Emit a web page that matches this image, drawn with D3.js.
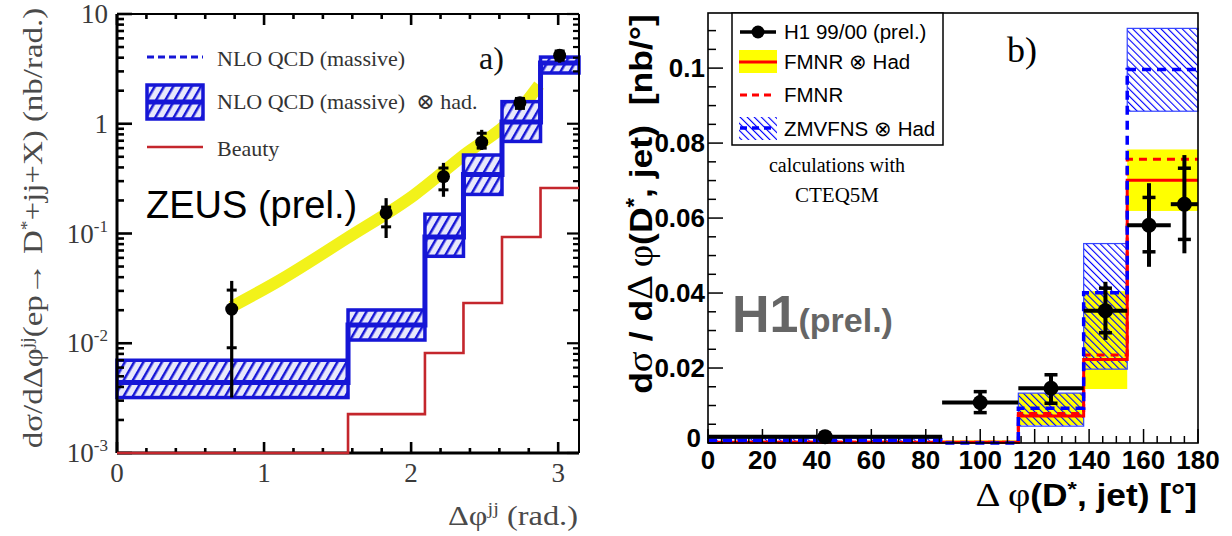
<!DOCTYPE html>
<html><head><meta charset="utf-8">
<script src="https://cdn.jsdelivr.net/npm/d3@7/dist/d3.min.js"></script>
<style>html,body{margin:0;padding:0;background:#fff;}svg{display:block;}</style>
</head><body>
<svg id="chart" width="1232" height="536"></svg>
<script>
// ---------------- Panel a) ZEUS ----------------
const zeusEdges   = [0, 1.571, 2.094, 2.356, 2.618, 2.880, 3.1416];
const nloHad      = [0.0044, 0.0147, 0.093, 0.345, 1.04, 3.58];
const nloHadUp    = [0.0070, 0.0201, 0.150, 0.519, 1.59, 4.05];
const nloHadDown  = [0.0032, 0.0107, 0.062, 0.227, 0.69, 2.90];
const beauty      = [0.001, 0.00226, 0.00815, 0.0233, 0.093, 0.26];
const zeusX       = [0.78, 1.83, 2.22, 2.48, 2.74, 3.01];
const zeusY       = [0.0205, 0.154, 0.33, 0.68, 1.55, 4.2];
const zeusStatUp  = [0.0305, 0.174, 0.395, 0.82, 1.70, 4.6];
const zeusStatDown= [0.0091, 0.115, 0.25, 0.60, 1.38, 3.8];
const zeusTotUp   = [0.037, 0.21, 0.44, 0.88, 1.72, 4.7];
const zeusTotDown = [0.0032, 0.091, 0.216, 0.577, 1.33, 3.6];
const fitX        = [0.78, 1.11, 1.56, 2.02, 2.36, 2.70, 2.87];
const fitY        = [0.0215, 0.0377, 0.090, 0.224, 0.52, 1.16, 2.25];
const zeusYTicks  = [0.001, 0.01, 0.1, 1, 10];
const zeusYTickBase = ["10", "10", "10", "1", "10"];
const zeusYTickExp  = ["-3", "-2", "-1", "", ""];
const zeusXTicks  = [0, 1, 2, 3];
const zeusLegend  = ["NLO QCD (massive)", "NLO QCD (massive)  \u2297 had.", "Beauty"];

// ---------------- Panel b) H1 ----------------
const h1Lo        = [0, 86, 114, 138, 154, 170];
const h1Hi        = [86, 114, 138, 154, 170, 180];
const h1X         = [43, 100, 126, 146, 162, 175];
const h1Y         = [0.0017, 0.0108, 0.0146, 0.0353, 0.0581, 0.0637];
const h1StatUp    = [0.0017, 0.0137, 0.0182, 0.0413, 0.0655, 0.0733];
const h1StatDown  = [0.0017, 0.0081, 0.0106, 0.0294, 0.0510, 0.0543];
const h1TotUp     = [0.0017, 0.0137, 0.0184, 0.0430, 0.0693, 0.0768];
const h1TotDown   = [0.0017, 0.0081, 0.0106, 0.0275, 0.0470, 0.0506];
const thEdges     = [0, 86, 114, 138, 154, 180];
const fmnrHad     = [0.0002, 0.0002, 0.0072, 0.0223, 0.0701];
const fmnrHadUp   = [0.0004, 0.0007, 0.0133, 0.0405, 0.0783];
const fmnrHadDown = [0.0000, 0.0000, 0.0048, 0.0144, 0.0619];
const fmnr        = [0.0002, 0.0002, 0.0079, 0.0235, 0.0757];
const zmvfnsHad   = [0.0007, 0.0000, 0.0093, 0.0401, 0.0996];
const zmvfnsUp    = [0.0012, 0.0001, 0.0133, 0.0532, 0.1106];
const zmvfnsDown  = [0.0002, 0.0000, 0.0045, 0.0197, 0.0885];
const h1YTicks    = [0, 0.02, 0.04, 0.06, 0.08, 0.1];
const h1YTickLabels = ["0", "0.02", "0.04", "0.06", "0.08", "0.1"];
const h1XTicks    = [0, 20, 40, 60, 80, 100, 120, 140, 160, 180];
const h1Legend    = ["H1 99/00 (prel.)", "FMNR \u2297 Had", "FMNR", "ZMVFNS \u2297 Had"];

// ---------------- drawing ----------------
const SERIF = "'Liberation Serif','DejaVu Serif',serif";
const SANS = "'Liberation Sans',Arial,sans-serif";
const BLUE_A = "#1616d6", RED_A = "#c4262c";
const svg = d3.select("#chart");
const defs = svg.append("defs");
const pA = defs.append("pattern").attr("id", "hatchA").attr("patternUnits", "userSpaceOnUse")
  .attr("width", 8).attr("height", 8).attr("patternTransform", "rotate(30)");
pA.append("rect").attr("width", 8).attr("height", 8).attr("fill", "#e8e8fb");
pA.append("rect").attr("width", 2.5).attr("height", 8).attr("fill", BLUE_A);
const pB = defs.append("pattern").attr("id", "hatchB").attr("patternUnits", "userSpaceOnUse")
  .attr("width", 5).attr("height", 5).attr("patternTransform", "rotate(-45)");
pB.append("rect").attr("width", 1.1).attr("height", 5).attr("fill", "#0000ff");

function stepPts(edges, vals) {
  const p = vals.map((v, i) => [edges[i], v]);
  p.push([edges[edges.length - 1], vals[vals.length - 1]]);
  return p;
}

// ===== Panel a =====
const xL = d3.scaleLinear().domain([0, 3.1416]).range([117, 579]);
const yL = d3.scaleLog().domain([0.001, 10]).range([453, 14]);
const gA = svg.append("g");

// fit band (yellow)
gA.append("path").datum(fitX.map((x, i) => [x, fitY[i]]))
  .attr("d", d3.line().x(d => xL(d[0])).y(d => yL(d[1])).curve(d3.curveMonotoneX))
  .attr("fill", "none").attr("stroke", "#f2f21a").attr("stroke-width", 12);

// NLO bands
gA.selectAll("rect.band").data(nloHad).join("rect").attr("class", "band")
  .attr("x", (d, i) => xL(zeusEdges[i]))
  .attr("width", (d, i) => xL(zeusEdges[i + 1]) - xL(zeusEdges[i]))
  .attr("y", (d, i) => yL(nloHadUp[i]))
  .attr("height", (d, i) => yL(nloHadDown[i]) - yL(nloHadUp[i]))
  .attr("fill", "url(#hatchA)").attr("stroke", BLUE_A).attr("stroke-width", 3.5);
gA.append("path").datum(stepPts(zeusEdges, nloHad))
  .attr("d", d3.line().x(d => xL(d[0])).y(d => yL(d[1])).curve(d3.curveStepAfter))
  .attr("fill", "none").attr("stroke", BLUE_A).attr("stroke-width", 5);

// ZEUS data points
const ptsA = gA.selectAll("g.pt").data(zeusY).join("g").attr("class", "pt");
ptsA.append("line").attr("x1", (d, i) => xL(zeusX[i])).attr("x2", (d, i) => xL(zeusX[i]))
  .attr("y1", (d, i) => yL(zeusTotUp[i])).attr("y2", (d, i) => yL(zeusTotDown[i]))
  .attr("stroke", "#000").attr("stroke-width", 3.2);
[zeusStatUp, zeusStatDown].forEach(arr => {
  ptsA.append("line").attr("x1", (d, i) => xL(zeusX[i]) - 5).attr("x2", (d, i) => xL(zeusX[i]) + 5)
    .attr("y1", (d, i) => yL(arr[i])).attr("y2", (d, i) => yL(arr[i]))
    .attr("stroke", "#000").attr("stroke-width", 3);
});
ptsA.append("circle").attr("cx", (d, i) => xL(zeusX[i])).attr("cy", d => yL(d)).attr("r", 6.5).attr("fill", "#000");

// frame + ticks
const fA = svg.append("g").attr("stroke", "#000").attr("fill", "none");
fA.append("line").attr("x1", xL(0)).attr("x2", xL(0)).attr("y1", yL(10)).attr("y2", yL(0.001)).attr("stroke-width", 3);
fA.append("line").attr("x1", xL(0)).attr("x2", xL(3.1416)).attr("y1", yL(0.001)).attr("y2", yL(0.001)).attr("stroke-width", 3);
fA.append("line").attr("x1", xL(0)).attr("x2", xL(3.1416)).attr("y1", yL(10)).attr("y2", yL(10)).attr("stroke-width", 2);
fA.append("line").attr("x1", xL(3.1416)).attr("x2", xL(3.1416)).attr("y1", yL(10)).attr("y2", yL(0.001)).attr("stroke-width", 2);
const yMinorA = yL.ticks();
const xMinorA = xL.ticks(15).filter(v => v <= 3.1416);
fA.selectAll("line.ylt").data(yMinorA).join("line").attr("class", "ylt")
  .attr("x1", xL(0)).attr("x2", d => xL(0) + (zeusYTicks.includes(d) ? 15 : 7))
  .attr("y1", d => yL(d)).attr("y2", d => yL(d)).attr("stroke-width", 2.6);
fA.selectAll("line.yrt").data(yMinorA).join("line").attr("class", "yrt")
  .attr("x1", xL(3.1416)).attr("x2", d => xL(3.1416) - (zeusYTicks.includes(d) ? 12 : 6))
  .attr("y1", d => yL(d)).attr("y2", d => yL(d)).attr("stroke-width", 2.2);
fA.selectAll("line.xbt").data(xMinorA).join("line").attr("class", "xbt")
  .attr("x1", d => xL(d)).attr("x2", d => xL(d))
  .attr("y1", yL(0.001)).attr("y2", d => yL(0.001) - (zeusXTicks.includes(d) ? 11 : 5)).attr("stroke-width", 2.6);
fA.selectAll("line.xtt").data(xMinorA).join("line").attr("class", "xtt")
  .attr("x1", d => xL(d)).attr("x2", d => xL(d))
  .attr("y1", yL(10)).attr("y2", d => yL(10) + (zeusXTicks.includes(d) ? 11 : 5)).attr("stroke-width", 2.6);

// beauty histogram (drawn above the frame so the lowest bin shows on the axis)
svg.append("path").datum(stepPts(zeusEdges, beauty))
  .attr("d", d3.line().x(d => xL(d[0])).y(d => yL(d[1])).curve(d3.curveStepAfter))
  .attr("fill", "none").attr("stroke", RED_A).attr("stroke-width", 2.6);

// tick labels
const tlA = svg.append("g").attr("font-family", SERIF).attr("fill", "#3a3a3a");
zeusYTicks.forEach((v, i) => {
  const t = tlA.append("text").attr("x", 108).attr("y", yL(v) + 9).attr("text-anchor", "end").attr("font-size", 27);
  t.append("tspan").text(zeusYTickBase[i]);
  if (zeusYTickExp[i]) t.append("tspan").attr("dy", -11).attr("font-size", 17).text(zeusYTickExp[i]);
});
zeusXTicks.forEach(v => {
  tlA.append("text").attr("x", xL(v)).attr("y", 482).attr("text-anchor", "middle").attr("font-size", 27).text(v);
});
// axis titles
const ytA = tlA.append("text").attr("transform", "translate(42,228) rotate(-90) scale(1.22,1)")
  .attr("text-anchor", "middle").attr("font-size", 27).attr("fill", "#4a4a4a");
ytA.append("tspan").text("d\u03c3/d\u0394\u03c6");
ytA.append("tspan").attr("dy", -10).attr("font-size", 16).text("jj");
ytA.append("tspan").attr("dy", 10).text("(ep\u2192 D");
ytA.append("tspan").attr("dy", -10).attr("font-size", 16).text("*");
ytA.append("tspan").attr("dy", 10).text("+jj+X) (nb/rad.)");
const xtA = tlA.append("text").attr("transform", "translate(578,525) scale(1.2,1)")
  .attr("text-anchor", "end").attr("font-size", 27).attr("fill", "#4a4a4a");
xtA.append("tspan").text("\u0394\u03c6");
xtA.append("tspan").attr("dy", -11).attr("font-size", 17).text("jj");
xtA.append("tspan").attr("dy", 11).text(" (rad.)");

// legend a
const lgA = svg.append("g");
lgA.append("line").attr("x1", 147).attr("x2", 203).attr("y1", 57).attr("y2", 57)
  .attr("stroke", BLUE_A).attr("stroke-width", 3).attr("stroke-dasharray", "7,4");
lgA.append("rect").attr("x", 147).attr("y", 85).attr("width", 56).attr("height", 34)
  .attr("fill", "url(#hatchA)").attr("stroke", BLUE_A).attr("stroke-width", 3.5);
lgA.append("line").attr("x1", 147).attr("x2", 203).attr("y1", 102).attr("y2", 102).attr("stroke", BLUE_A).attr("stroke-width", 5);
lgA.append("line").attr("x1", 147).attr("x2", 203).attr("y1", 147).attr("y2", 147).attr("stroke", RED_A).attr("stroke-width", 2.6);
[66, 109, 156].forEach((y, i) => {
  lgA.append("text").attr("x", 217).attr("y", y).attr("font-family", SERIF).attr("font-size", 22)
    .attr("fill", "#333").attr("xml:space", "preserve").text(zeusLegend[i]);
});
svg.append("text").attr("x", 146).attr("y", 218).attr("font-family", SANS).attr("font-size", 38).attr("fill", "#000").text("ZEUS (prel.)");
svg.append("text").attr("x", 479).attr("y", 69).attr("font-family", SERIF).attr("font-size", 32).attr("fill", "#111").text("a)");

// ===== Panel b =====
const xR = d3.scaleLinear().domain([0, 180]).range([708, 1198]);
const yR = d3.scaleLinear().domain([0, 0.1147]).range([443, 13]);
const gB = svg.append("g");
const stepR = d3.line().x(d => xR(d[0])).y(d => yR(d[1])).curve(d3.curveStepAfter);

// FMNR x Had yellow band
gB.selectAll("rect.yb").data(fmnrHad).join("rect").attr("class", "yb")
  .attr("x", (d, i) => xR(thEdges[i])).attr("width", (d, i) => xR(thEdges[i + 1]) - xR(thEdges[i]))
  .attr("y", (d, i) => yR(fmnrHadUp[i])).attr("height", (d, i) => yR(fmnrHadDown[i]) - yR(fmnrHadUp[i]))
  .attr("fill", "#ffff00");
// ZMVFNS hatch band
gB.selectAll("rect.hb").data(zmvfnsHad).join("rect").attr("class", "hb")
  .attr("x", (d, i) => xR(thEdges[i])).attr("width", (d, i) => xR(thEdges[i + 1]) - xR(thEdges[i]))
  .attr("y", (d, i) => yR(zmvfnsUp[i])).attr("height", (d, i) => yR(zmvfnsDown[i]) - yR(zmvfnsUp[i]))
  .attr("fill", "url(#hatchB)").attr("stroke", "#3344ff").attr("stroke-width", 1.2);
gB.append("path").datum(stepPts(thEdges, fmnrHad)).attr("d", stepR)
  .attr("fill", "none").attr("stroke", "#ff0000").attr("stroke-width", 3);
gB.append("path").datum(stepPts(thEdges, fmnr)).attr("d", stepR)
  .attr("fill", "none").attr("stroke", "#ff0000").attr("stroke-width", 3).attr("stroke-dasharray", "8,6");
gB.append("path").datum(stepPts(thEdges, zmvfnsHad)).attr("d", stepR)
  .attr("fill", "none").attr("stroke", "#0000ff").attr("stroke-width", 3.5).attr("stroke-dasharray", "9,6");

// H1 data
const ptsB = gB.selectAll("g.pt").data(h1Y).join("g").attr("class", "pt");
ptsB.append("line").attr("x1", (d, i) => xR(h1Lo[i])).attr("x2", (d, i) => xR(h1Hi[i]))
  .attr("y1", d => yR(d)).attr("y2", d => yR(d)).attr("stroke", "#000").attr("stroke-width", 4);
ptsB.append("line").attr("x1", (d, i) => xR(h1X[i])).attr("x2", (d, i) => xR(h1X[i]))
  .attr("y1", (d, i) => yR(h1TotUp[i])).attr("y2", (d, i) => yR(h1TotDown[i]))
  .attr("stroke", "#000").attr("stroke-width", 4);
[h1StatUp, h1StatDown].forEach(arr => {
  ptsB.filter((d, i) => arr[i] !== d).append("line")
    .attr("x1", (d) => xR(h1X[h1Y.indexOf(d)]) - 6.5).attr("x2", (d) => xR(h1X[h1Y.indexOf(d)]) + 6.5)
    .attr("y1", (d) => yR(arr[h1Y.indexOf(d)])).attr("y2", (d) => yR(arr[h1Y.indexOf(d)]))
    .attr("stroke", "#000").attr("stroke-width", 3.5);
});
ptsB.append("circle").attr("cx", (d, i) => xR(h1X[i])).attr("cy", d => yR(d)).attr("r", 7.5).attr("fill", "#000");

// frame + ticks
const fB = svg.append("g").attr("stroke", "#000");
fB.append("rect").attr("x", xR(0)).attr("y", yR(0.1147)).attr("width", xR(180) - xR(0)).attr("height", yR(0) - yR(0.1147))
  .attr("fill", "none").attr("stroke-width", 1.6);
const yMinorB = yR.ticks(23);
const xMinorB = xR.ticks(36);
fB.selectAll("line.yt").data(yMinorB).join("line").attr("class", "yt")
  .attr("x1", xR(0)).attr("x2", d => xR(0) + (h1YTicks.some(t => Math.abs(t - d) < 1e-9) ? 15 : 8))
  .attr("y1", d => yR(d)).attr("y2", d => yR(d)).attr("stroke-width", 1.5);
fB.selectAll("line.xt").data(xMinorB).join("line").attr("class", "xt")
  .attr("x1", d => xR(d)).attr("x2", d => xR(d))
  .attr("y1", yR(0)).attr("y2", d => yR(0) - (h1XTicks.includes(d) ? 14 : 7)).attr("stroke-width", 1.5);

const tlB = svg.append("g").attr("font-family", SANS).attr("font-weight", "bold").attr("fill", "#000");
h1YTicks.forEach((v, i) => {
  tlB.append("text").attr("x", v === 0 ? 701 : 705).attr("y", v === 0 ? 447 : yR(v) + 9)
    .attr("text-anchor", "end").attr("font-size", 26).text(h1YTickLabels[i]);
});
h1XTicks.forEach(v => {
  tlB.append("text").attr("x", xR(v)).attr("y", 469).attr("text-anchor", "middle").attr("font-size", 26).text(v);
});
const ytB = tlB.append("text").attr("transform", "translate(652,204) rotate(-90) scale(1.11,1)")
  .attr("text-anchor", "middle").attr("font-size", 32).attr("xml:space", "preserve");
ytB.append("tspan").text("d");
ytB.append("tspan").attr("font-family", SERIF).attr("font-weight", "normal").attr("font-size", 35).text("\u03c3");
ytB.append("tspan").text(" / d");
ytB.append("tspan").attr("font-family", SERIF).attr("font-weight", "normal").attr("font-size", 35).text("\u0394 \u03c6");
ytB.append("tspan").text("(D");
ytB.append("tspan").attr("dy", -11).attr("font-size", 22).text("*");
ytB.append("tspan").attr("dy", 11).text(", jet)  [nb/\u00b0]");
const xtB = tlB.append("text").attr("transform", "translate(1197,506) scale(1.14,1)")
  .attr("text-anchor", "end").attr("font-size", 31).attr("xml:space", "preserve");
xtB.append("tspan").attr("font-family", SERIF).attr("font-weight", "normal").attr("font-size", 34).text("\u0394 \u03c6");
xtB.append("tspan").text("(D");
xtB.append("tspan").attr("dy", -10).attr("font-size", 21).text("*");
xtB.append("tspan").attr("dy", 10).text(", jet) [\u00b0]");

// legend b
const lgB = svg.append("g");
lgB.append("rect").attr("x", 732).attr("y", 13).attr("width", 211).attr("height", 132).attr("fill", "#fff").attr("stroke", "#000").attr("stroke-width", 1.5);
lgB.append("line").attr("x1", 740).attr("x2", 776).attr("y1", 32).attr("y2", 32).attr("stroke", "#000").attr("stroke-width", 3.5);
lgB.append("circle").attr("cx", 758).attr("cy", 32).attr("r", 6.5).attr("fill", "#000");
lgB.append("rect").attr("x", 739).attr("y", 50).attr("width", 38).attr("height", 23).attr("fill", "#ffff00");
lgB.append("line").attr("x1", 739).attr("x2", 777).attr("y1", 62).attr("y2", 62).attr("stroke", "#ff0000").attr("stroke-width", 3);
lgB.append("line").attr("x1", 740).attr("x2", 776).attr("y1", 95).attr("y2", 95).attr("stroke", "#ff0000").attr("stroke-width", 3).attr("stroke-dasharray", "7,5");
lgB.append("rect").attr("x", 739).attr("y", 117).attr("width", 38).attr("height", 23).attr("fill", "url(#hatchB)");
lgB.append("line").attr("x1", 740).attr("x2", 776).attr("y1", 128).attr("y2", 128).attr("stroke", "#0000ff").attr("stroke-width", 3.5).attr("stroke-dasharray", "7,5");
[39, 69, 102, 136].forEach((y, i) => {
  lgB.append("text").attr("x", 784).attr("y", y).attr("font-family", SANS).attr("font-size", 20.5).attr("fill", "#000").text(h1Legend[i]);
});
svg.append("text").attr("x", 837).attr("y", 172).attr("text-anchor", "middle").attr("font-family", SERIF).attr("font-size", 20).text("calculations with");
svg.append("text").attr("x", 837).attr("y", 202).attr("text-anchor", "middle").attr("font-family", SERIF).attr("font-size", 21).text("CTEQ5M");
svg.append("text").attr("x", 1007).attr("y", 62).attr("font-family", SERIF).attr("font-size", 36).text("b)");
const h1t = svg.append("text").attr("x", 732).attr("y", 332).attr("font-family", SANS).attr("font-weight", "bold").attr("fill", "#666");
h1t.append("tspan").attr("font-size", 52).text("H1");
h1t.append("tspan").attr("font-size", 34).text("(prel.)");
</script>
</body></html>
